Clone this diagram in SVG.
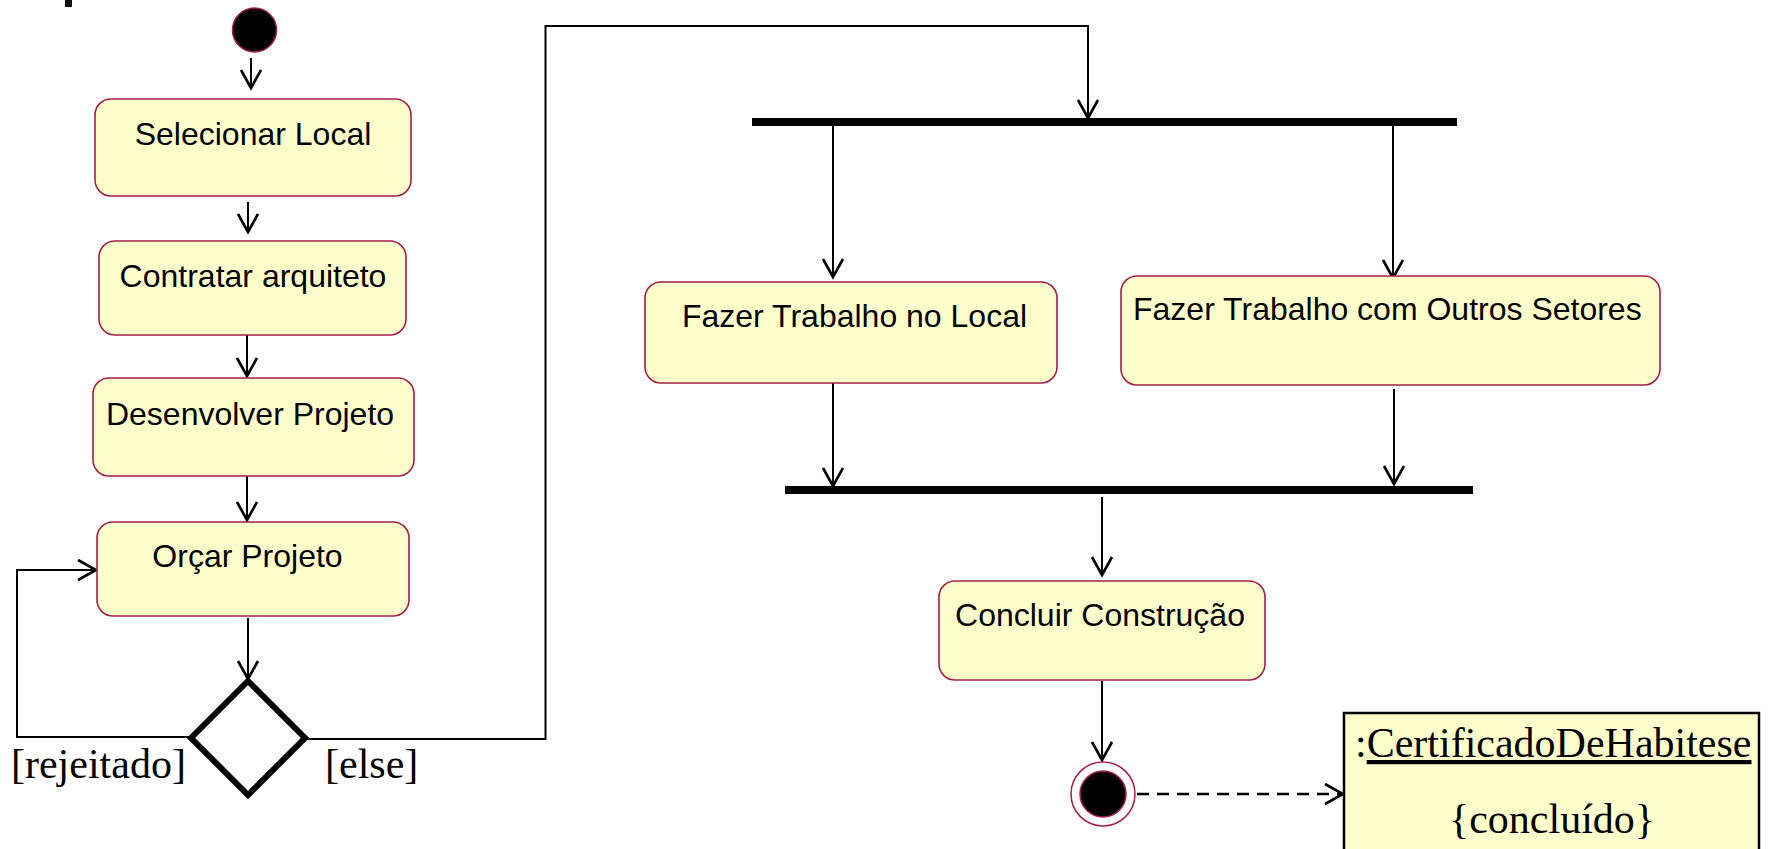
<svg xmlns="http://www.w3.org/2000/svg" width="1768" height="849" viewBox="0 0 1768 849">
  <style>
    .act { fill: #FFFFCC; stroke: #A0204A; stroke-width: 1.6; }
    .lbl { font-family: "Liberation Sans", Arial, sans-serif; font-size: 32px; fill: #000; }
    .ser { font-family: "Liberation Serif", "Times New Roman", serif; font-size: 42px; fill: #000; }
    .bar { fill: #000; }
    .edge { fill: none; stroke: #000; stroke-width: 2; }
    .dash { fill: none; stroke: #000; stroke-width: 2.5; stroke-dasharray: 12 8; }
  </style>
  <defs>
    <marker id="open" markerUnits="userSpaceOnUse" markerWidth="24" markerHeight="26" viewBox="0 0 24 26" refX="20" refY="13" orient="auto">
      <path d="M2,3 L20,13 L2,23" fill="none" stroke="#000" stroke-width="2.6"/>
    </marker>
  </defs>
  <rect width="1768" height="849" fill="#FFFFFF"/>
  <rect x="65" y="0" width="7" height="7" fill="#111"/>

  <g id="connectors">
    <line class="edge" x1="251" y1="58" x2="251" y2="88" marker-end="url(#open)"/>
    <line class="edge" x1="248" y1="202" x2="248" y2="232" marker-end="url(#open)"/>
    <line class="edge" x1="247" y1="330" x2="247" y2="376" marker-end="url(#open)"/>
    <line class="edge" x1="247" y1="473" x2="247" y2="520" marker-end="url(#open)"/>
    <line class="edge" x1="248" y1="618" x2="248" y2="679" marker-end="url(#open)"/>
    <polyline class="edge" points="192,737 17,737 17,570 96,570" marker-end="url(#open)"/>
    <polyline class="edge" points="307,739 545.5,739 545.5,26 1088,26 1088,118" marker-end="url(#open)"/>
    <line class="edge" x1="833" y1="126" x2="833" y2="277" marker-end="url(#open)"/>
    <line class="edge" x1="1393" y1="126" x2="1393" y2="278" marker-end="url(#open)"/>
    <line class="edge" x1="833" y1="378" x2="833" y2="486" marker-end="url(#open)"/>
    <line class="edge" x1="1394" y1="389" x2="1394" y2="484" marker-end="url(#open)"/>
    <line class="edge" x1="1102" y1="497" x2="1102" y2="575" marker-end="url(#open)"/>
    <line class="edge" x1="1102" y1="681" x2="1102" y2="760" marker-end="url(#open)"/>
    <line class="dash" x1="1137" y1="794" x2="1343" y2="794" marker-end="url(#open)"/>
  </g>

  <g id="start">
    <circle cx="254.5" cy="30" r="22" fill="#000" stroke="#A0204A" stroke-width="1.5"/>
  </g>

  <g id="selecionar">
    <rect class="act" x="95" y="99" width="316" height="97" rx="16"/>
    <text class="lbl" x="253" y="145" text-anchor="middle">Selecionar Local</text>
  </g>
  <g id="contratar">
    <rect class="act" x="99" y="241" width="307" height="94" rx="16"/>
    <text class="lbl" x="253" y="287" text-anchor="middle">Contratar arquiteto</text>
  </g>
  <g id="desenvolver">
    <rect class="act" x="93" y="378" width="321" height="98" rx="16"/>
    <text class="lbl" x="250" y="425" text-anchor="middle">Desenvolver Projeto</text>
  </g>
  <g id="orcar">
    <rect class="act" x="97" y="522" width="312" height="94" rx="16"/>
    <text class="lbl" x="247.5" y="567" text-anchor="middle">Orçar Projeto</text>
  </g>

  <g id="decision">
    <polygon points="248,681 305,738 248,795 191,738" fill="#FFFFFF" stroke="#000" stroke-width="6"/>
    <text class="ser" x="11" y="778">[rejeitado]</text>
    <text class="ser" x="325" y="778">[else]</text>
  </g>

  <g id="fork">
    <rect class="bar" x="752" y="118" width="705" height="8"/>
  </g>
  <g id="trabalho-local">
    <rect class="act" x="645" y="282" width="412" height="101" rx="16"/>
    <text class="lbl" x="854.5" y="327" text-anchor="middle">Fazer Trabalho no Local</text>
  </g>
  <g id="trabalho-setores">
    <rect class="act" x="1121" y="276" width="539" height="109" rx="16"/>
    <text class="lbl" x="1133" y="320">Fazer Trabalho com Outros Setores</text>
  </g>
  <g id="join">
    <rect class="bar" x="785" y="486" width="688" height="8"/>
  </g>
  <g id="concluir">
    <rect class="act" x="939" y="581" width="326" height="99" rx="16"/>
    <text class="lbl" x="1100" y="626" text-anchor="middle">Concluir Construção</text>
  </g>

  <g id="end">
    <circle cx="1103" cy="794" r="32" fill="#FFFFFF" stroke="#A0204A" stroke-width="1.5"/>
    <circle cx="1103" cy="794" r="23" fill="#000" stroke="#A0204A" stroke-width="1.5"/>
  </g>

  <g id="certificado">
    <rect x="1344" y="713" width="415" height="150" fill="#FFFFCC" stroke="#000" stroke-width="2.5"/>
    <text class="ser" x="1355" y="757">:<tspan text-decoration="underline">CertificadoDeHabitese</tspan></text>
    <text class="ser" x="1552" y="833" text-anchor="middle">{concluído}</text>
  </g>
</svg>
